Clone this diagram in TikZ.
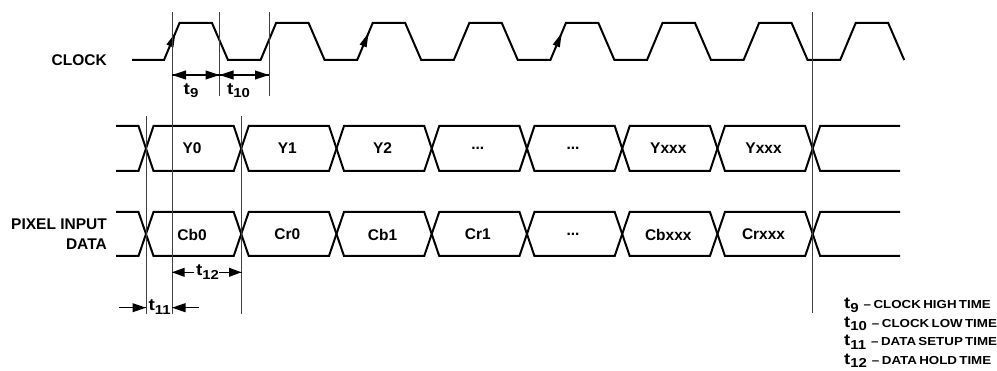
\documentclass[tikz,border=0pt]{standalone}
\usepackage{fontspec}
\setmainfont{Liberation Sans}
\newfontfamily\stf[FakeStretch=1.15]{Liberation Sans}
\usetikzlibrary{arrows.meta}
\newcommand\tlab[1]{{\stf\fontsize{16.5}{16.5}\selectfont t}\raisebox{-3.4pt}{\stf\fontsize{13}{13}\selectfont #1}}
\newcommand\tleg[2]{{\stf\fontsize{16}{16}\selectfont t}\raisebox{-3.4pt}{\stf\fontsize{13}{13}\selectfont #1}\hspace{5pt}{\stf\fontsize{11.6}{12}\selectfont –\hspace{2.5pt}\spaceskip=0.2em\relax #2}}
\newcommand\myellp{...}
% filled arrow heads: tip at named coordinate #1, length #2
\newcommand\tipleft[2]{\fill (#1) -- ++(#2,-4.6) -- ++(0,9.2) -- cycle;}
\newcommand\tipright[2]{\fill (#1) -- ++(-#2,-4.6) -- ++(0,9.2) -- cycle;}
\begin{document}
\begin{tikzpicture}[x=1pt,y=-1pt,
  sig/.style={line width=2pt,line join=miter,line cap=butt},
  guide/.style={line width=1pt,black!75},
  tline/.style={line width=1.4pt},
  lab/.style={font=\bfseries\fontsize{15.5}{19.5}\selectfont,inner sep=0pt},
  tl/.style={font=\bfseries,inner sep=0pt,anchor=base},
  leg/.style={font=\bfseries,inner sep=0pt,anchor=base west}]
\useasboundingbox (0,0) rectangle (997,371);
% ---- clock ----
\def\per{96.6}
\draw[sig] (132,60)
  \foreach \k in {0,...,7}{ -- ({164+\per*\k},60) -- ({179.5+\per*\k},23) -- ({212+\per*\k},23) -- ({228+\per*\k},60) };
\foreach \k in {0,2,4}{
  \coordinate (ea\k) at ({175.3+\per*\k},33);
  \fill (ea\k) -- ++(-1.9,14.4) -- ++(-7,-2.9) -- cycle;
}
\node[lab,anchor=east] (clk) at (107,60) {CLOCK};
% ---- data buses ----
\def\hw{7.5}
\foreach \yt/\yb in {126/171,212/256}{
  \draw[sig] (116,\yt) \foreach \i in {0,...,7}{
      -- ({146+95.24*\i-\hw}, {\yt+(\yb-\yt)*mod(\i,2)})
      -- ({146+95.24*\i+\hw}, {\yb-(\yb-\yt)*mod(\i,2)}) } -- (900,\yt);
  \draw[sig] (116,\yb) \foreach \i in {0,...,7}{
      -- ({146+95.24*\i-\hw}, {\yb-(\yb-\yt)*mod(\i,2)})
      -- ({146+95.24*\i+\hw}, {\yt+(\yb-\yt)*mod(\i,2)}) } -- (900,\yb);
}
\foreach \t [count=\i from 0] in {Y0,Y1,Y2,\myellp,\myellp,Yxxx,Yxxx}
  \node[lab] (y\i) at ({146+95.24*\i+47.6-1.5},148.5) {\t};
\foreach \t [count=\i from 0] in {Cb0,Cr0,Cb1,Cr1,\myellp,Cbxxx,Crxxx}
  \node[lab] (c\i) at ({146+95.24*\i+47.6-1.5},234.5) {\t};
\node[lab,anchor=east,align=right] (pix) at (107,234) {PIXEL INPUT\\DATA};
% ---- guide lines ----
\coordinate (g172t) at (172,12);  \coordinate (g172b) at (172,314);
\coordinate (g220t) at (219.5,12);\coordinate (g220b) at (219.5,96);
\coordinate (g269t) at (269,12);  \coordinate (g269b) at (269,96);
\coordinate (g146t) at (146,116); \coordinate (g146b) at (146,314);
\coordinate (g241t) at (241.5,116);\coordinate (g241b) at (241.5,314);
\coordinate (g813t) at (812.7,12);\coordinate (g813b) at (812.7,313);
\foreach \g in {172,220,269,146,241,813}
  \draw[guide] (g\g t) -- (g\g b);
% ---- timing arrows ----
\coordinate (a9l) at (172,75); \coordinate (a9r) at (219.5,75); \coordinate (a10r) at (269,75);
\draw[tline] (a9l) -- (a10r);
\tipleft{a9l}{14} \tipright{a9r}{14} \tipleft{a9r}{14} \tipright{a10r}{14}
\node[tl] (t9) at (191,94.3) {\tlab{9}};
\node[tl] (t10) at (238.5,94.3) {\tlab{10}};
\coordinate (a12l) at (172,272.3); \coordinate (a12r) at (241.5,272.3);
\coordinate (a12a) at (194.3,272.3); \coordinate (a12b) at (219,272.3);
\node[tl] (t12) at (207.5,275.7) {\tlab{12}};
\draw[tline] (a12a) -- (a12l); \tipleft{a12l}{12.5}
\draw[tline] (a12b) -- (a12r); \tipright{a12r}{12.5}
\coordinate (a11l) at (146,307.7); \coordinate (a11r) at (172,307.7);
\coordinate (a11a) at (119,307.7); \coordinate (a11b) at (199,307.7);
\draw[tline] (a11a) -- (a11l); \tipright{a11l}{13.5}
\draw[tline] (a11b) -- (a11r); \tipleft{a11r}{13.5}
\node[tl] (t11) at (159.7,311) {\tlab{11}};
% ---- legend ----
\node[leg] (l9) at (844,308.8) {\tleg{9}{CLOCK HIGH TIME}};
\node[leg] (l10) at (844,327.3) {\tleg{10}{CLOCK LOW TIME}};
\node[leg] (l11) at (844,345.9) {\tleg{11}{DATA SETUP TIME}};
\node[leg] (l12) at (844,364.6) {\tleg{12}{DATA HOLD TIME}};
\end{tikzpicture}
\end{document}
